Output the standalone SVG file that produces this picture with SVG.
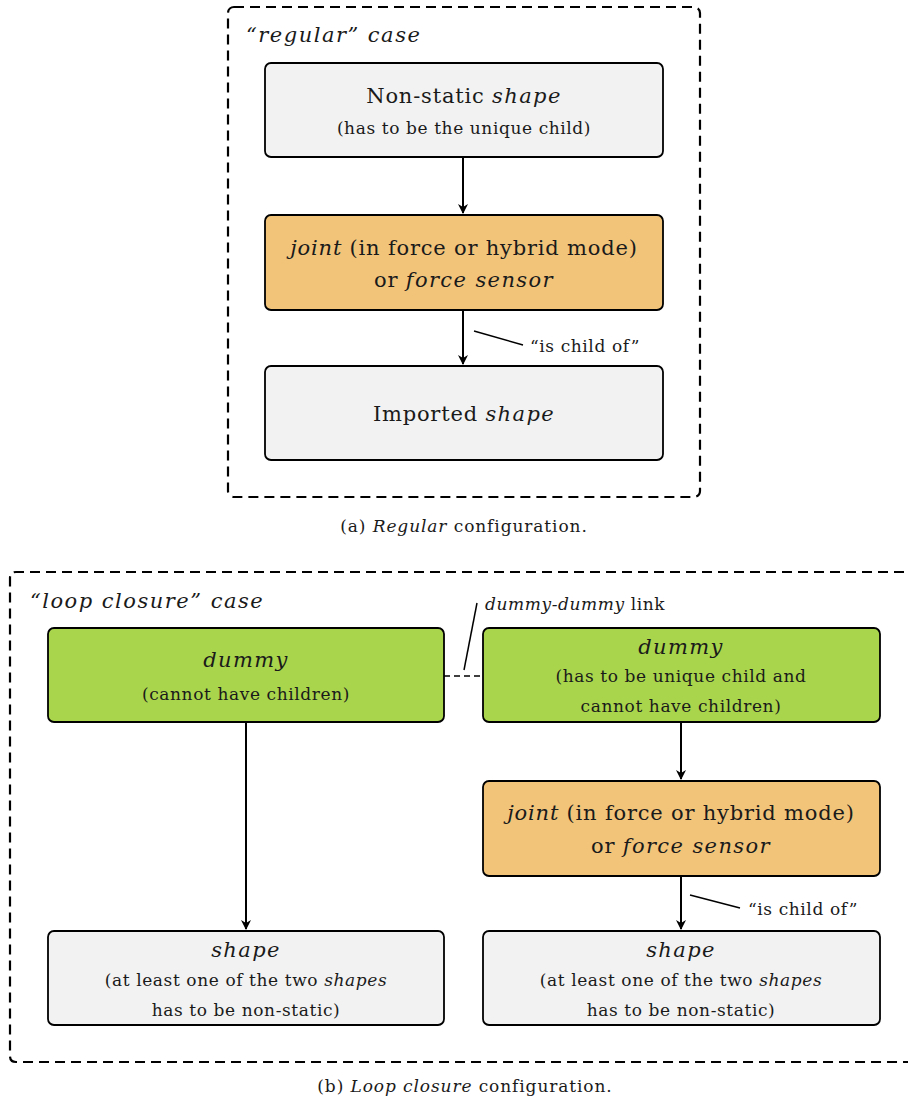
<svg xmlns="http://www.w3.org/2000/svg" width="908" height="1107" viewBox="0 0 908 1107">
  <defs>
    <marker id="arrow" viewBox="0 0 10 10" refX="9" refY="5" markerWidth="10" markerHeight="10" markerUnits="userSpaceOnUse" orient="auto">
      <path d="M0,0 L10,5 L0,10 L3,5 Z" fill="#000"/>
    </marker>
  </defs>
  <style>
    text { font-family: "DejaVu Serif", "Liberation Serif", serif; fill: #1a1a1a; }
    .big { font-size: 21px; letter-spacing: 0.8px; }
    .small { font-size: 17px; letter-spacing: 0.6px; }
    .cap { font-size: 17px; letter-spacing: 0.9px; }
    .it { font-style: italic; }
    .sp { letter-spacing: 1.4px; }
    .frame { fill: none; stroke: #000; stroke-width: 2.2; stroke-dasharray: 10 6; }
    .node { stroke: #000; stroke-width: 1.8; }
    .grey { fill: #f2f2f2; }
    .orange { fill: #f2c47a; }
    .green { fill: #a9d54c; }
    .edge { stroke: #000; stroke-width: 2; fill: none; }
    .lbl { stroke: #000; stroke-width: 1.5; fill: none; }
  </style>

  <!-- (a) regular configuration -->
  <rect class="frame" x="228" y="7" width="472" height="490" rx="6"/>
  <text class="big it" x="246" y="42" style="letter-spacing:1.5px">“regular” case</text>

  <g id="nonstatic-shape">
    <rect class="node grey" x="265" y="63" width="398" height="94" rx="6"/>
    <text class="big" x="464" y="103" text-anchor="middle">Non-static <tspan class="it sp">shape</tspan></text>
    <text class="small" x="464" y="134" text-anchor="middle">(has to be the unique child)</text>
  </g>

  <g id="joint-a">
    <rect class="node orange" x="265" y="215" width="398" height="95" rx="6"/>
    <text class="big" x="464" y="255" text-anchor="middle"><tspan class="it">joint</tspan> (in force or hybrid mode)</text>
    <text class="big" x="464" y="287" text-anchor="middle">or <tspan class="it sp">force sensor</tspan></text>
  </g>

  <g id="imported-shape">
    <rect class="node grey" x="265" y="366" width="398" height="94" rx="6"/>
    <text class="big" x="464" y="421" text-anchor="middle">Imported <tspan class="it sp">shape</tspan></text>
  </g>

  <text class="cap" x="464" y="532" text-anchor="middle">(a) <tspan class="it">Regular</tspan> configuration.</text>

  <!-- (b) loop closure configuration -->
  <path class="frame" d="M920,572 H16 Q10,572 10,578 V1056 Q10,1062 16,1062 H920"/>
  <text class="big it" x="30" y="608" style="letter-spacing:1.5px">“loop closure” case</text>

  <g id="dummy-left">
    <rect class="node green" x="48" y="628" width="396" height="94" rx="6"/>
    <text class="big it sp" x="246" y="667" text-anchor="middle">dummy</text>
    <text class="small" x="246" y="700" text-anchor="middle">(cannot have children)</text>
  </g>

  <g id="dummy-right">
    <rect class="node green" x="483" y="628" width="397" height="94" rx="6"/>
    <text class="big it sp" x="681" y="654" text-anchor="middle">dummy</text>
    <text class="small" x="681" y="682" text-anchor="middle">(has to be unique child and</text>
    <text class="small" x="681" y="712" text-anchor="middle">cannot have children)</text>
  </g>

  <g id="joint-b">
    <rect class="node orange" x="483" y="781" width="397" height="95" rx="6"/>
    <text class="big" x="681" y="820" text-anchor="middle"><tspan class="it">joint</tspan> (in force or hybrid mode)</text>
    <text class="big" x="681" y="853" text-anchor="middle">or <tspan class="it sp">force sensor</tspan></text>
  </g>

  <g id="shape-left">
    <rect class="node grey" x="48" y="931" width="396" height="94" rx="6"/>
    <text class="big it sp" x="246" y="957" text-anchor="middle">shape</text>
    <text class="small" x="246" y="986" text-anchor="middle">(at least one of the two <tspan class="it">shapes</tspan></text>
    <text class="small" x="246" y="1016" text-anchor="middle">has to be non-static)</text>
  </g>

  <g id="shape-right">
    <rect class="node grey" x="483" y="931" width="397" height="94" rx="6"/>
    <text class="big it sp" x="681" y="957" text-anchor="middle">shape</text>
    <text class="small" x="681" y="986" text-anchor="middle">(at least one of the two <tspan class="it">shapes</tspan></text>
    <text class="small" x="681" y="1016" text-anchor="middle">has to be non-static)</text>
  </g>

  <text class="cap" x="465" y="1092" text-anchor="middle">(b) <tspan class="it">Loop closure</tspan> configuration.</text>

  <!-- connectors -->
  <g id="connectors">
    <line class="edge" x1="463" y1="157" x2="463" y2="213" marker-end="url(#arrow)"/>
    <line class="edge" x1="463" y1="310" x2="463" y2="364" marker-end="url(#arrow)"/>
    <line class="lbl" x1="474" y1="331" x2="523" y2="345"/>
    <text class="small" x="530" y="352">“is child of”</text>

    <line class="edge" x1="246" y1="722" x2="246" y2="929" marker-end="url(#arrow)"/>
    <line class="edge" x1="681" y1="722" x2="681" y2="779" marker-end="url(#arrow)"/>
    <line class="edge" x1="681" y1="876" x2="681" y2="929" marker-end="url(#arrow)"/>
    <line class="lbl" x1="690" y1="895" x2="740" y2="908"/>
    <text class="small" x="748" y="915">“is child of”</text>

    <line x1="444" y1="676" x2="483" y2="676" stroke="#000" stroke-width="1.5" stroke-dasharray="6 4"/>
    <line class="lbl" x1="464" y1="670" x2="477" y2="603"/>
    <text class="small" x="485" y="610"><tspan class="it">dummy-dummy</tspan> link</text>
  </g>
</svg>
